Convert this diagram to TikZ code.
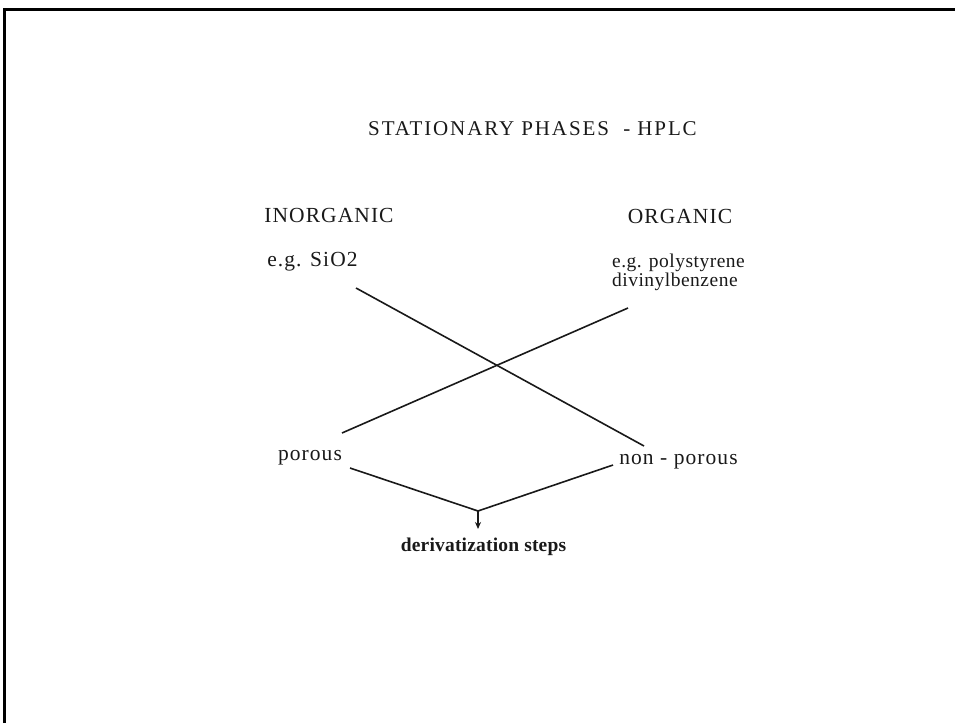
\documentclass[tikz,border=0pt]{standalone}
\usepackage{fontspec}
\setmainfont{Liberation Serif}
\usetikzlibrary{arrows.meta}
\tikzset{>=latex}
\colorlet{inkblack}{black!90}
\tikzset{label text/.style={inner sep=0, text=inkblack,
    font=\fontsize{21.5}{23}\selectfont\addfontfeature{LetterSpace=5}}}
\tikzset{cross line/.style={inkblack, line width=1.6}}

\begin{document}
\begin{tikzpicture}[x=1pt,y=-1pt]
  \useasboundingbox (0,0) rectangle (955,723);

  % FRAME (top and left edge only)
  \draw[line width=3, black] (4.7,723) -- (4.7,9) -- (955,9);

  % TITLE
  \node[label text, font=\fontsize{21}{23}\selectfont\addfontfeature{LetterSpace=9}]
      (title) at (532.5,129) {STATIONARY PHASES\ \ - HPLC};

  % CLASSES
  \node[label text] (inorg) at (329,215) {INORGANIC};
  \node[label text] (org) at (680,216) {ORGANIC};
  \node[label text] (sio) at (312.5,262) {e.g. SiO2};
  \node[label text, anchor=west, align=left,
        font=\fontsize{19.5}{17}\selectfont\addfontfeature{LetterSpace=2.5}]
      (poly) at (612,272) {e.g. polystyrene\\divinylbenzene};

  % STRUCTURE
  \node[label text] (porous) at (310,458) {porous};
  \node[label text] (nonporous) at (678.5,462) {non - porous};
  \node[label text, font=\fontsize{19.5}{21}\selectfont\bfseries\addfontfeature{LetterSpace=1}]
      (deriv) at (483.5,547) {derivatization steps};

  % ends of the crossing lines
  \coordinate (sioA) at (356,288);
  \coordinate (nonA) at (644,446);
  \coordinate (polyA) at (628,308);
  \coordinate (porA) at (342,433);
  \coordinate (porB) at (350,468);
  \coordinate (nonB) at (613,465);
  \coordinate (J) at (478,511);
  \coordinate (derivA) at (478,529);

  \draw[cross line] (sioA) -- (nonA);
  \draw[cross line] (polyA) -- (porA);

  % MERGE
  \draw[cross line] (porB) -- (J) -- (nonB);
  \draw[cross line, -{Stealth[length=7pt,width=6pt]}] (J) -- (derivA);
\end{tikzpicture}
\end{document}
